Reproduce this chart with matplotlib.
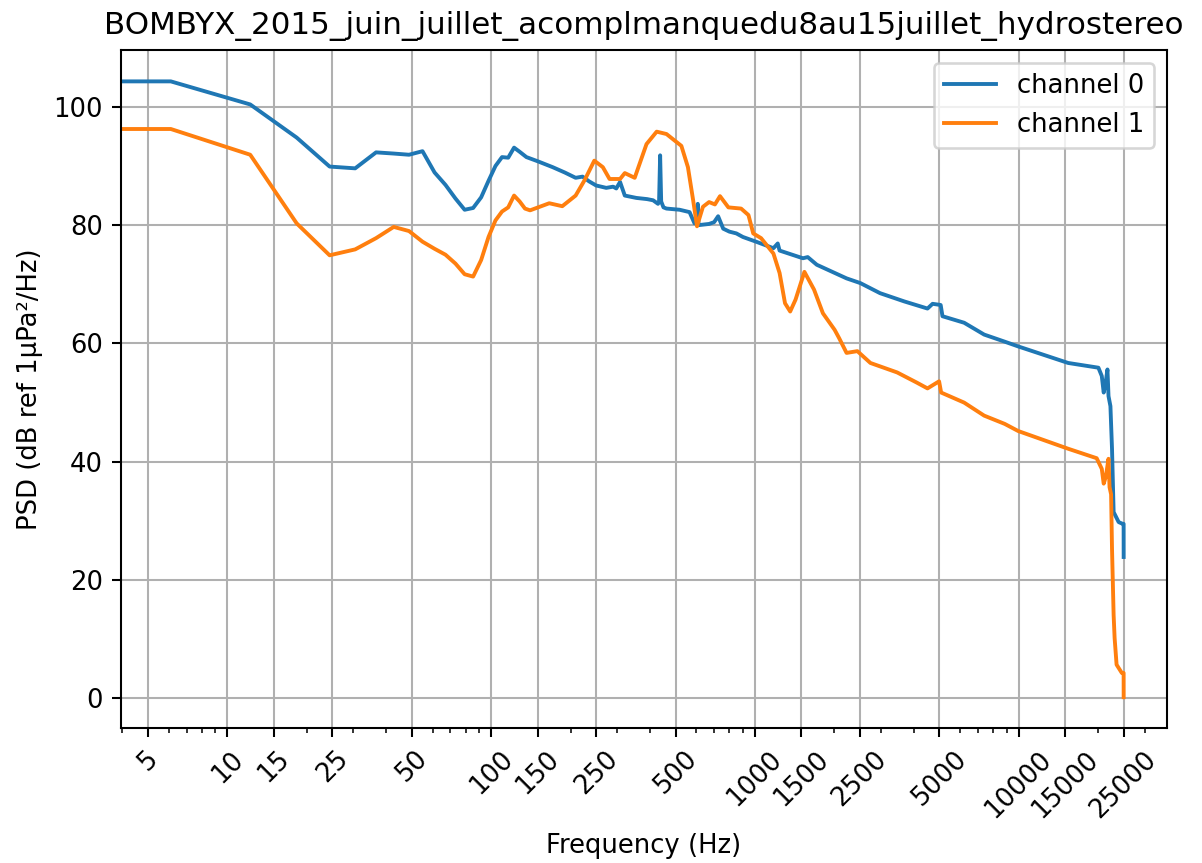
import matplotlib
matplotlib.use("Agg")
import matplotlib.pyplot as plt

title = "BOMBYX_2015_juin_juillet_acomplmanquedu8au15juillet_hydrostereo"

# channel 0 (Hz, dB)
freq0 = [0, 6.1, 12.2, 18.3, 24.4, 30.5, 36.6, 42.7, 48.8, 54.9, 61.0, 67.1, 73.2,
         79.3, 85.4, 91.6, 97.7, 103.8, 109.9, 116.0, 122.1, 128.2, 136, 150, 171,
         190, 209, 222, 235, 250, 273, 290, 298, 308, 321, 355, 390, 411, 429, 433,
         437, 441, 450, 462, 518, 565, 590, 603, 607, 611, 670, 700, 725, 758, 800,
         850, 900, 1010, 1175, 1220, 1240, 1520, 1585, 1716, 2225, 2510, 2980, 3685,
         4510, 4715, 5060, 5140, 6210, 7395, 8850, 9950, 15400, 20050, 20650, 21000,
         21300, 21700, 21900, 22270, 22580, 22900, 23930, 24800, 24990, 25000]
psd0 = [104.4, 104.3, 100.4, 94.8, 89.9, 89.6, 92.3, 92.1, 91.9, 92.5, 88.9, 86.8, 84.5,
        82.6, 82.9, 84.7, 87.5, 90.0, 91.5, 91.4, 93.1, 92.4, 91.5, 90.8, 89.8,
        88.9, 88.0, 88.2, 87.4, 86.7, 86.3, 86.5, 86.2, 87.3, 85.0, 84.6, 84.4, 84.2, 83.6, 84.0,
        91.8, 84.0, 83.0, 82.8, 82.6, 82.2, 80.3, 80.5, 83.6, 80.0, 80.2, 80.5, 81.5, 79.4, 78.9,
        78.6, 78.0, 77.2, 76.1, 76.9, 75.7, 74.4, 74.6, 73.3, 71.0, 70.2, 68.5, 67.1,
        65.9, 66.7, 66.5, 64.6, 63.5, 61.5, 60.3, 59.5, 56.7, 55.9, 54.5, 51.7,
        53.0, 55.6, 51.1, 49.4, 42.2, 31.5, 29.8, 29.5, 29.5, 23.9]

# channel 1 (Hz, dB)
freq1 = [0, 6.1, 12.2, 18.3, 24.4, 30.5, 36.6, 42.7, 48.8, 54.9, 61.0, 67.1, 73.2,
         79.3, 85.4, 91.6, 97.7, 103.8, 109.9, 116.0, 122.1, 128.2, 134.3, 140.4, 166,
         186, 209, 226, 246, 265, 281, 308, 321, 350, 388, 424, 462, 496, 526, 557,
         583, 603, 635, 670, 705, 737, 793, 886, 945, 985, 1055, 1175, 1240, 1300,
         1360, 1425, 1540, 1675, 1810, 2005, 2085, 2225, 2445, 2740, 3460, 4100,
         4510, 4990, 5080, 6210, 7395, 8850, 9950, 15400, 19750, 20650, 21000, 21400,
         21900, 22100, 22400, 22580, 22900, 23100, 23500, 24600, 24990, 25000]
psd1 = [96.25, 96.25, 91.9, 80.3, 74.9, 75.9, 77.8, 79.7, 79.0, 77.2, 76.0, 75.0, 73.5,
        71.7, 71.3, 74.1, 78.0, 80.8, 82.3, 83.0, 85.0, 84.0, 82.8, 82.5, 83.7,
        83.2, 85.0, 87.6, 90.9, 89.8, 87.8, 87.8, 88.8, 88.0, 93.7, 95.8, 95.4, 94.3, 93.4, 89.8,
        84.2, 79.8, 83.1, 83.9, 83.5, 84.9, 83.0, 82.8, 81.7, 78.6, 77.8, 75.2, 71.9, 66.8,
        65.4, 67.4, 72.1, 69.1, 65.1, 62.3, 60.9, 58.4, 58.7, 56.7, 55.1, 53.4,
        52.4, 53.6, 51.7, 50.0, 47.8, 46.4, 45.2, 42.2, 40.6, 38.8, 36.3, 37.5,
        40.5, 35.7, 34.5, 25.3, 14.1, 10.2, 5.7, 4.3, 4.3, 0.2]

xticks = [5, 10, 15, 25, 50, 100, 150, 250, 500, 1000, 1500, 2500, 5000, 10000, 15000, 25000]

dpi = 186
fig, ax = plt.subplots(figsize=(1202 / dpi, 863 / dpi), dpi=dpi)
fig.subplots_adjust(left=0.1007, right=0.9709, top=0.9421, bottom=0.1564)

ax.plot(freq0, psd0, label="channel 0")
ax.plot(freq1, psd1, label="channel 1")
ax.set_xscale("log")
ax.set_xlim(3.95, 36500)
ax.set_xticks(xticks, [str(t) for t in xticks], rotation=45)
ax.grid(True)
ax.set_title(title)
ax.set_xlabel("Frequency (Hz)")
ax.set_ylabel("PSD (dB ref 1µPa²/Hz)")
ax.legend(loc="upper right")

fig.savefig("out.png", dpi=dpi)
